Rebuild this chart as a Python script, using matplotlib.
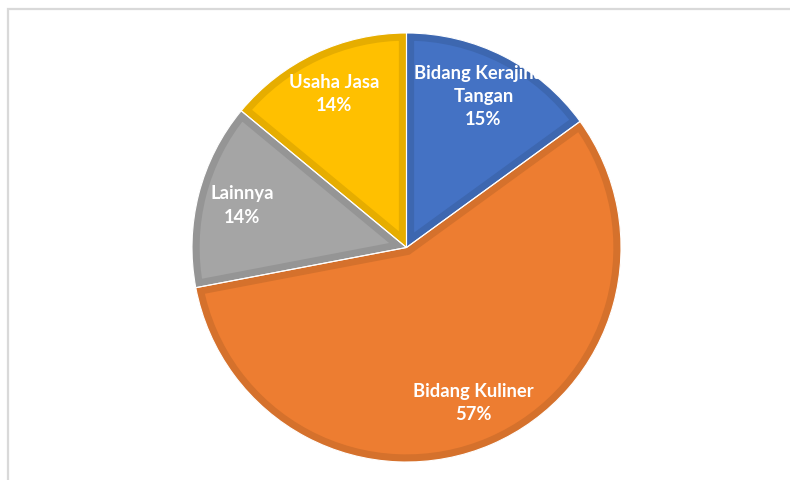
import numpy as np
import matplotlib
matplotlib.use("Agg")
import matplotlib.pyplot as plt
from matplotlib.patches import Rectangle, Wedge
from matplotlib.colors import to_rgb

# Data
categories = ["Bidang Kerajinan\nTangan", "Bidang Kuliner", "Lainnya", "Usaha Jasa"]
shares = [15, 57, 14, 14]
colors = ["#4472C4", "#ED7D31", "#A5A5A5", "#FFC000"]

W, H = 790, 480
fig = plt.figure(figsize=(W / 100, H / 100), dpi=100)
ax = fig.add_axes([0, 0, 1, 1])


def darker(c, f=0.9):
    r, g, b = to_rgb(c)
    return (r * f, g * f, b * f)


cx, cy, R = 406.5, H - 247.5, 214.5
wedges, _ = ax.pie(shares, colors=colors, startangle=90, counterclock=False,
                   center=(cx, cy), radius=R, frame=True)
ax.set_xlim(0, W)
ax.set_ylim(0, H)
ax.set_aspect("equal")
ax.axis("off")

# chart frame (top and left edges visible)
ax.add_patch(Rectangle((8, -20), W + 40, H - 9 + 20, fill=False,
                       edgecolor="#d9d9d9", linewidth=1.6))

# darker inner border on each slice, thin white separator between slices
for w, c in zip(wedges, colors):
    w.set_edgecolor(darker(c))
    w.set_linewidth(11)
    w.set_clip_on(True)
    w.set_clip_path(w)
    ax.add_patch(Wedge(w.center, w.r, w.theta1, w.theta2,
                       facecolor="none", edgecolor="white", linewidth=0.8))

# labels inside each slice
for w, name, v in zip(wedges, categories, shares):
    mid = np.deg2rad((w.theta1 + w.theta2) / 2)
    rr = 0.79 * R
    x = cx + rr * np.cos(mid)
    y = cy + rr * np.sin(mid)
    ax.text(x, y, f"{name}\n{v}%", ha="center", va="center", color="white",
            fontsize=13.2, fontweight="bold", family=["Lato", "DejaVu Sans"],
            linespacing=1.45)

fig.savefig("out.png", dpi=100)
